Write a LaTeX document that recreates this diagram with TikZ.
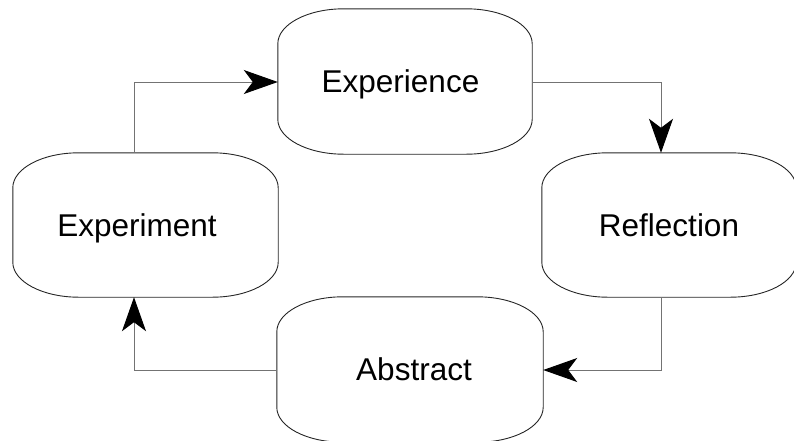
\documentclass[tikz,border=0pt]{standalone}
\usepackage{fontspec}
\setmainfont{Liberation Sans}
\usetikzlibrary{arrows.meta,calc}
\newcommand\ellbox[1]{%
  \draw[boxline] ($(#1.north west)+(66,0)$) -- ($(#1.north east)+(-66,0)$)
    arc[start angle=-90, end angle=0, x radius=66, y radius=35]
    -- ($(#1.south east)+(0,-35)$)
    arc[start angle=0, end angle=90, x radius=66, y radius=35]
    -- ($(#1.south west)+(66,0)$)
    arc[start angle=90, end angle=180, x radius=66, y radius=35]
    -- ($(#1.north west)+(0,35)$)
    arc[start angle=180, end angle=270, x radius=66, y radius=35] -- cycle;}
\begin{document}
\begin{tikzpicture}[x=1pt,y=-1pt,
  boxline/.style={draw=black!85, line width=0.9pt},
  stage/.style={rectangle, inner sep=0pt, text height=22pt, text depth=0pt,
    font=\fontsize{31.5}{38}\selectfont},
  link/.style={draw=black!55, line width=1pt,
    -{Stealth[black, length=34pt, width=24pt, inset=9pt]}}]
\useasboundingbox (0,0) rectangle (794,440);
\node[stage, minimum width=254pt, minimum height=145pt] (exp) at (405,81.5) {\hspace*{-9pt}Experience};
\node[stage, minimum width=254pt, minimum height=144pt] (ref) at (669,225) {Reflection};
\node[stage, minimum width=265pt, minimum height=144pt] (ment) at (145.5,225) {\hspace*{-17pt}Experiment};
\node[stage, minimum width=266pt, minimum height=145pt] (abs) at (410,369.5) {\hspace*{8pt}Abstract};
\ellbox{exp}
\ellbox{ref}
\ellbox{ment}
\ellbox{abs}
\draw[link] (ment.north -| 134,0) |- (exp.west |- 0,82);
\draw[link] (exp.east |- 0,82) -| (ref.north -| 661,0);
\draw[link] (ref.south -| 661,0) |- (abs.east |- 0,370);
\draw[link] (abs.west |- 0,370) -| (ment.south -| 134,0);
\end{tikzpicture}
\end{document}
